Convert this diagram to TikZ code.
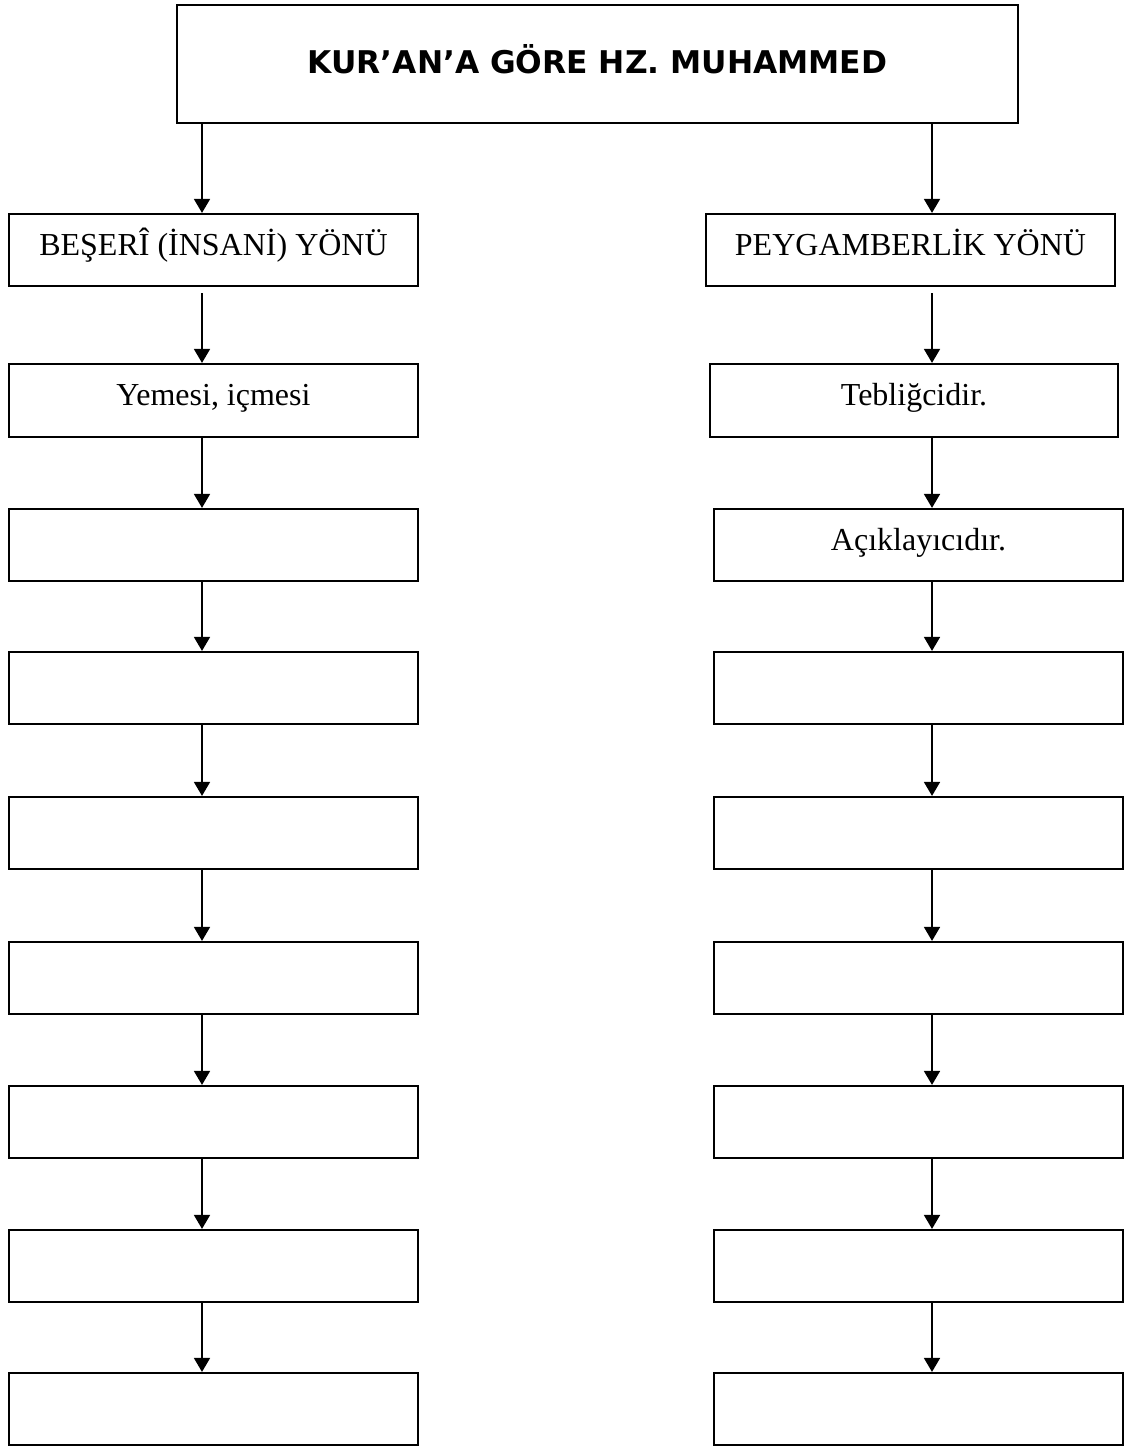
\documentclass[tikz,border=0pt]{standalone}
\usepackage{fontspec}
\setmainfont{Liberation Serif}
\newfontfamily\titlefont{DejaVu Sans}
\usetikzlibrary{arrows.meta}
\begin{document}
\begin{tikzpicture}[x=1pt,y=-1pt,
  box/.style={draw, line width=2.2pt, minimum width=409pt, minimum height=72pt, inner sep=0pt,
    font=\fontsize{32}{38}\selectfont, text height=22pt, text depth=12pt},
  titlebox/.style={draw, line width=2.2pt, minimum width=841pt, minimum height=118pt, inner sep=0pt,
    font=\titlefont\bfseries\fontsize{31.3}{36}\selectfont, text height=31pt, text depth=12pt},
  arr/.style={line width=1.8pt, -{Triangle[width=16pt,length=14pt]}}]
\useasboundingbox (0,0) rectangle (1124,1447);
\fill[white] (0,0) rectangle (1124,1447);
\coordinate (lx) at (202,0);
\coordinate (rx) at (932,0);
\node[titlebox] (top) at (597.5,64) {KUR’AN’A GÖRE HZ. MUHAMMED};
% left column
\node[box] (L0) at (213.5,250) {BEŞERÎ (İNSANİ) YÖNÜ};
\node[box, minimum height=73pt] (L1) at (213.5,400.5) {Yemesi, içmesi};
\node[box] (L2) at (213.5,545) {};
\node[box] (L3) at (213.5,688) {};
\node[box] (L4) at (213.5,833) {};
\node[box] (L5) at (213.5,978) {};
\node[box] (L6) at (213.5,1122) {};
\node[box] (L7) at (213.5,1266) {};
\node[box] (L8) at (213.5,1409) {};
% right column
\node[box] (R0) at (910.5,250) {PEYGAMBERLİK YÖNÜ};
\node[box, minimum width=408pt, minimum height=73pt] (R1) at (914,400.5) {Tebliğcidir.};
\node[box] (R2) at (918.5,545) {Açıklayıcıdır.};
\node[box] (R3) at (918.5,688) {};
\node[box] (R4) at (918.5,833) {};
\node[box] (R5) at (918.5,978) {};
\node[box] (R6) at (918.5,1122) {};
\node[box] (R7) at (918.5,1266) {};
\node[box] (R8) at (918.5,1409) {};
% arrows
\draw[arr] (top.south -| lx) -- (L0.north -| lx);
\draw[arr] (top.south -| rx) -- (R0.north -| rx);
\draw[arr, shorten <=6pt] (L0.south -| lx) -- (L1.north -| lx);
\draw[arr, shorten <=6pt] (R0.south -| rx) -- (R1.north -| rx);
\foreach \a/\b in {1/2,2/3,3/4,4/5,5/6,6/7,7/8}{
  \draw[arr] (L\a.south -| lx) -- (L\b.north -| lx);
  \draw[arr] (R\a.south -| rx) -- (R\b.north -| rx);
}
\end{tikzpicture}
\end{document}
